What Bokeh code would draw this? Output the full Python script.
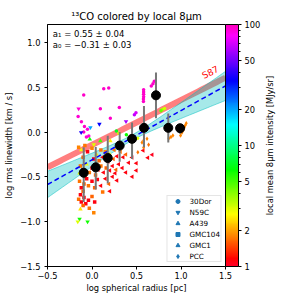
import numpy as np
from bokeh.plotting import figure
from bokeh.layouts import row
from bokeh.models import (ColumnDataSource, LogColorMapper, ColorBar, FixedTicker, Label,
                          Legend, LegendItem, Range1d, PrintfTickFormatter)
from bokeh.core.properties import value
from bokeh.embed import file_html
from bokeh.resources import INLINE

FONT = "DejaVu Sans"

# ---------------- data ----------------
x_ticks = [-0.5, 0.0, 0.5, 1.0, 1.5]
x_tick_labels = ["\u22120.5", "0.0", "0.5", "1.0", "1.5"]
y_ticks = [-1.5, -1.0, -0.5, 0.0, 0.5, 1.0]
y_tick_labels = ["\u22121.5", "\u22121.0", "\u22120.5", "0.0", "0.5", "1.0"]
cb_ticks = [1, 2, 5, 10, 20, 50, 100]
cb_minor = [3, 4, 6, 7, 8, 9, 30, 40, 60, 70, 80, 90]
cb_title = "local mean 8\u03bcm intensity [MJy/sr]"

fit_a1, fit_a1_err = 0.55, 0.04
fit_a0, fit_a0_err = -0.31, 0.03
s87_slope, s87_icpt = 0.5, -0.143

# binned means
bin_x = [-0.093, 0.042, 0.177, 0.311, 0.45, 0.584, 0.719, 0.857, 0.99]
bin_y = [-0.454, -0.394, -0.289, -0.151, -0.076, 0.047, 0.41, 0.047, 0.043]
bin_lo = [-0.78, -0.64, -0.57, -0.33, -0.30, -0.17, 0.155, -0.117, -0.02]
bin_hi = [-0.17, -0.166, -0.04, 0.0, 0.107, 0.29, 0.664, 0.208, 0.08]

# 30Dor
dor_x = [-0.093, -0.156, -0.119, -0.085, -0.051, -0.093, -0.036, -0.063, 0.132, 0.188, 0.094, 0.206,
         0.307, 0.476, 0.494, 0.58, 0.58, 0.58, 0.58, 0.578, 0.578, 0.666, 0.685, 0.70, 0.30, 0.274,
         0.386, 0.423, 0.513, 0.79, 0.816, 0.775]
dor_y = [0.413, 0.174, 0.114, 0.062, 0.032, 0.002, -0.043, -0.054, 0.484, 0.492, 0.26, 0.155,
         0.275, 0.193, 0.215, 0.473, 0.447, 0.421, 0.395, 0.368, 0.342, 0.514, 0.540, 0.566, -0.013, 0.013,
         -0.031, -0.054, -0.069, 0.253, 0.264, 0.238]
dor_i = [95, 92, 95, 95, 90, 95, 88, 92, 95, 95, 95, 95, 95, 65, 70, 95, 95, 95, 95, 95, 95, 95, 95, 95,
         3, 7, 6, 2.8, 3, 3.5, 3.2, 4.5]

# N59C
n59_x = [-0.15, -0.122, -0.018, 0.083, 0.382, -0.14, -0.16, -0.05, 0.02]
n59_y = [0.26, -0.005, 0.051, 0.088, 0.118, -0.97, -1.0, -1.0, -0.14]
n59_i = [90, 38, 20, 35, 60, 6, 3, 6, 3]

# A439
a439_x = [-0.12, -0.06, 0.05, 0.2, -0.14, 0.094, -0.025, 0.206, -0.13]
a439_y = [-0.2, -0.36, -0.25, -0.25, -0.46, -0.099, -0.08, -0.099, -0.86]
a439_i = [2.6, 2.8, 2.5, 2.6, 3.0, 5.0, 6.0, 2.6, 2.5]

# GMC104
g104_x = [-0.15, -0.08, -0.05, 0.0, 0.1, 0.15, -0.1, 0.02, 0.08,
          -0.13, -0.1, -0.03, 0.0, 0.04, 0.1, 0.16, -0.08,
          -0.14, -0.12, -0.09, -0.06, -0.04, 0.0, 0.03, 0.06, 0.12, -0.1, -0.13,
          -0.15, -0.12, -0.09, -0.07, -0.1, -0.04, 0.0, 0.03, -0.03, 0.02]
g104_y = [-0.17, -0.15, -0.22, -0.18, -0.2, -0.22, -0.28, -0.3, -0.32,
          -0.38, -0.42, -0.45, -0.4, -0.48, -0.38, -0.4, -0.5,
          -0.55, -0.62, -0.58, -0.52, -0.6, -0.55, -0.62, -0.53, -0.67, -0.66, -0.7,
          -0.75, -0.78, -0.73, -0.8, -0.82, -0.76, -0.72, -0.78, -0.85, -0.9]
g104_i = [1.8, 1.7, 1.1, 1.8, 1.7, 1.8, 1.6, 1.1, 1.6,
          1.7, 1.1, 1.7, 1.1, 1.6, 1.7, 1.6, 1.8,
          1.7, 1.1, 1.6, 1.1, 1.7, 1.1, 1.6, 1.1, 1.7, 1.6, 1.1,
          1.7, 1.1, 1.1, 1.1, 1.6, 1.1, 1.6, 1.1, 1.7, 1.8]

# GMC1
g1_x = [0.12, 0.18, 0.24, 0.25, 0.28, 0.32, 0.35, 0.38, 0.07, 0.13, 0.2, 0.23, 0.27, 0.3, 0.34, 0.38,
        0.26, 0.1, 0.15, 0.19, 0.23, 0.28, 0.2, 0.412, 0.45, 0.498, 0.497, 0.452, 0.676, 0.627, 0.575]
g1_y = [-0.28, -0.33, -0.3, -0.2, -0.27, -0.22, -0.28, -0.25, -0.42, -0.45, -0.43, -0.38, -0.42, -0.36,
        -0.4, -0.45, -0.46, -0.6, -0.52, -0.58, -0.5, -0.54, -0.66, -0.342, -0.285, -0.349, -0.43, -0.5,
        -0.253, -0.287, -0.205]
g1_i = [1.1, 1.1, 1.6, 1.7, 1.1, 1.7, 1.1, 1.6, 1.1, 1.1, 1.1, 1.1, 1.6, 1.1, 1.1, 1.1,
        1.1, 1.1, 1.1, 1.6, 1.1, 1.1, 1.1, 1.1, 1.1, 1.1, 1.1, 1.1, 1.05, 1.1, 1.1]

# PCC
pcc_x = [0.864, 0.887, 0.909, 0.995, 1.01, 1.025, 1.036, 1.048, 1.059, 0.562, 0.58, 0.618, 0.636, 0.515, 0.58]
pcc_y = [-0.069, -0.054, -0.039, -0.039, -0.009, 0.021, 0.051, 0.077, 0.099, -0.117, -0.094, -0.075,
         -0.143, -0.224, -0.173]
pcc_i = [1.8, 1.8, 1.8, 1.8, 1.8, 1.8, 1.8, 1.8, 1.8, 1.8, 1.8, 1.8, 1.7, 1.7, 1.8]

legend_names = ["30Dor", "N59C", "A439", "GMC104", "GMC1", "PCC"]

# ---------------- colormap (gist_rainbow) ----------------
_gr = [(0.000, (1.00, 0.00, 0.16)), (0.030, (1.00, 0.00, 0.00)), (0.215, (1.00, 1.00, 0.00)),
       (0.400, (0.00, 1.00, 0.00)), (0.586, (0.00, 1.00, 1.00)), (0.770, (0.00, 0.00, 1.00)),
       (0.954, (1.00, 0.00, 1.00)), (1.000, (1.00, 0.00, 0.75))]
_pos = [a for a, _ in _gr]
_t = np.linspace(0, 1, 256)
_r = np.interp(_t, _pos, [c[0] for _, c in _gr])
_g = np.interp(_t, _pos, [c[1] for _, c in _gr])
_b = np.interp(_t, _pos, [c[2] for _, c in _gr])
palette = ["#%02x%02x%02x" % (int(round(r * 255)), int(round(g * 255)), int(round(b * 255)))
           for r, g, b in zip(_r, _g, _b)]
mapper = LogColorMapper(palette=palette, low=1, high=100)

# ---------------- main figure ----------------
yr = Range1d(-1.5, 1.2)
p = figure(x_range=Range1d(-0.5, 1.5), y_range=yr,
           width=263, height=296, output_backend="svg", toolbar_location=None,
           min_border_left=47, min_border_right=38, min_border_top=24, min_border_bottom=30)
p.title.text = "\u00b9\u00b3CO colored by local 8\u03bcm"
p.title.align = "center"
p.title.text_font = FONT
p.title.text_font_size = "10px"
p.title.text_font_style = "normal"
p.title.text_color = "black"
p.title.standoff = 6

p.xgrid.visible = False
p.ygrid.visible = False
p.outline_line_color = "black"
p.outline_line_width = 1
p.background_fill_color = "white"
p.border_fill_color = "white"

for ax, ticks, labels, lab, lstand, astand in [
        (p.xaxis[0], x_ticks, x_tick_labels, "log spherical radius [pc]", 2, 1),
        (p.yaxis[0], y_ticks, y_tick_labels, "log rms linewidth [km / s]", 4, 3)]:
    ax.ticker = FixedTicker(ticks=ticks)
    ax.major_label_overrides = dict(zip(ticks, labels))
    ax.axis_label = lab
    ax.axis_label_text_font = FONT
    ax.axis_label_text_font_size = "8.3px"
    ax.axis_label_text_font_style = "normal"
    ax.axis_label_text_color = "black"
    ax.axis_label_standoff = astand
    ax.major_label_text_font = FONT
    ax.major_label_text_font_size = "8.3px"
    ax.major_label_text_color = "black"
    ax.major_label_standoff = lstand
    ax.major_tick_out = 3
    ax.major_tick_in = 0
    ax.minor_tick_out = 0
    ax.minor_tick_in = 0
    ax.axis_line_color = "black"
    ax.major_tick_line_color = "black"

# S87 line
xs = np.linspace(-0.5, 1.5, 60)
p.line(xs, s87_slope * xs + s87_icpt, line_color="red", line_alpha=0.5, line_width=6)

# fit band
center = fit_a1 * xs + fit_a0
half = np.sqrt(fit_a0_err ** 2 + (3.8 * fit_a1_err * (xs - 0.45)) ** 2)
p.varea(x=xs, y1=center - half, y2=center + half, fill_color="#00bfbf", fill_alpha=0.35)
p.line(xs, center + half, line_color="#00bfbf", line_alpha=0.5, line_width=1)
p.line(xs, center - half, line_color="#00bfbf", line_alpha=0.5, line_width=1)

# scatter groups
groups = [
    (dor_x, dor_y, dor_i, "circle", 0.0, 3.5),
    (n59_x, n59_y, n59_i, "inverted_triangle", 0.0, 4.5),
    (a439_x, a439_y, a439_i, "triangle", 0.0, 4.5),
    (g104_x, g104_y, g104_i, "square", 0.0, 3.5),
    (g1_x, g1_y, g1_i, "triangle", np.pi / 2, 4.5),
    (pcc_x, pcc_y, pcc_i, "diamond", 0.0, 4.5),
]
legend_items = []
for (gx, gy, gi, mk, ang, sz), name in zip(groups, legend_names):
    src = ColumnDataSource(dict(x=gx, y=gy, i=gi))
    p.scatter("x", "y", source=src, marker=mk, angle=ang, size=sz,
              fill_color={"field": "i", "transform": mapper}, line_color=None)
    dummy_src = ColumnDataSource(dict(x=[np.nan], y=[np.nan]))
    dummy = p.scatter("x", "y", source=dummy_src, marker=mk, angle=ang,
                      size=7 if mk != "diamond" else 9,
                      fill_color="#1f77b4", line_color="#1f77b4")
    legend_items.append(LegendItem(label=name, renderers=[dummy]))

# fit line
p.line(xs, center, line_color="blue", line_width=1.5, line_dash="5 3")

# binned points
p.segment(x0=bin_x, y0=bin_lo, x1=bin_x, y1=bin_hi, line_color="#777777", line_width=2)
p.scatter(bin_x, bin_y, size=9, fill_color="black", line_color="black")

# annotations
p.add_layout(Label(x=-0.44, y=1.097, text="a\u2081 = 0.55 \u00b1 0.04", text_font=FONT,
                   text_font_size="8.5px", text_baseline="middle", text_align="left",
                   text_color="black"))
p.add_layout(Label(x=-0.44, y=0.974, text="a\u2080 = \u22120.31 \u00b1 0.03", text_font=FONT,
                   text_font_size="8.5px", text_baseline="middle", text_align="left",
                   text_color="black"))
p.add_layout(Label(x=1.33, y=0.665, text="S87", text_font=FONT, text_font_size="9px",
                   text_color="red", angle=0.46, text_align="center", text_baseline="middle"))

legend = Legend(items=legend_items, location="bottom_right", margin=4, padding=0,
                spacing=1, label_height=10, glyph_height=10, glyph_width=20, label_standoff=2,
                label_text_font=FONT, label_text_font_size="7.2px", label_text_color="black",
                border_line_color="#cccccc", background_fill_alpha=0.8)
p.add_layout(legend)

cb = ColorBar(color_mapper=mapper, ticker=FixedTicker(ticks=cb_ticks, minor_ticks=cb_minor),
              formatter=PrintfTickFormatter(format="%d"), width=13, padding=0, margin=0,
              major_tick_in=0, major_tick_out=3, minor_tick_in=0, minor_tick_out=2,
              major_tick_line_color="black", minor_tick_line_color="black",
              bar_line_color="black", label_standoff=3,
              major_label_text_font=FONT, major_label_text_font_size="8.3px",
              major_label_text_color="black",
              background_fill_alpha=0, border_line_color=None)
p.add_layout(cb, "right")

# ---------------- narrow figure holding the colour-bar title ----------------
q = figure(x_range=Range1d(0, 1), y_range=yr, width=13, height=296, output_backend="svg",
           toolbar_location=None, min_border_left=0, min_border_right=0,
           min_border_top=24, min_border_bottom=30)
q.axis.visible = False
q.grid.visible = False
q.outline_line_color = None
q.background_fill_color = "white"
q.border_fill_color = "white"
q.text(x=[0.5], y=[sum(yr.start for _ in [0]) * 0 + (yr.start + yr.end) / 2], text=[cb_title],
       angle=np.pi / 2, text_font=value(FONT), text_font_size="8.3px", text_color="black",
       text_align="center", text_baseline="middle")

layout = row(p, q)
open("out.html", "w").write(file_html(layout, INLINE))
